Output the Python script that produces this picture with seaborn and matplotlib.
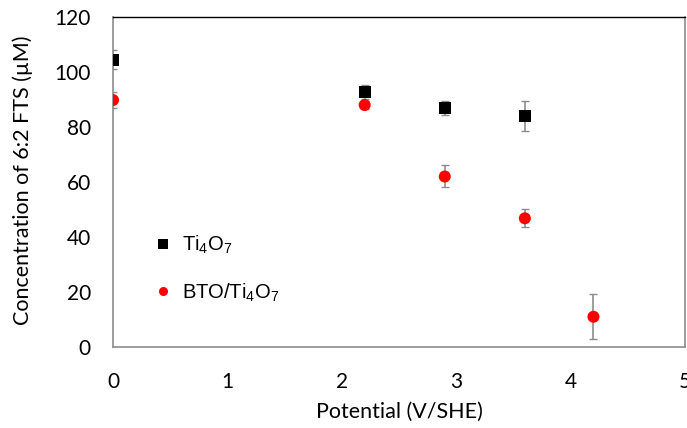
import matplotlib
matplotlib.use("Agg")
import matplotlib.pyplot as plt
import seaborn as sns
import pandas as pd
import numpy as np

# Data
ti_x = [0.0, 2.2, 2.9, 3.6]
ti_y = [104.5, 92.7, 87.0, 84.0]
ti_err = [3.5, 2.6, 2.6, 5.6]

bto_x = [0.0, 2.2, 2.9, 3.6, 4.2]
bto_y = [89.8, 88.0, 62.0, 46.8, 11.0]
bto_err = [2.8, 1.6, 4.0, 3.3, 8.2]

series_labels = [r"Ti$_4$O$_7$", r"BTO/Ti$_4$O$_7$"]
x_ticks = [0, 1, 2, 3, 4, 5]
y_ticks = [0, 20, 40, 60, 80, 100, 120]

df = pd.DataFrame({
    "x": ti_x + bto_x,
    "y": ti_y + bto_y,
    "err": ti_err + bto_err,
    "series": [series_labels[0]] * len(ti_x) + [series_labels[1]] * len(bto_x),
})

sns.set_style("white")
plt.rcParams["font.family"] = ["Lato", "DejaVu Sans"]
plt.rcParams["mathtext.fontset"] = "custom"
plt.rcParams["mathtext.rm"] = "Liberation Sans"
plt.rcParams["mathtext.it"] = "Liberation Sans"
plt.rcParams["text.color"] = "black"
plt.rcParams["axes.labelcolor"] = "black"
plt.rcParams["xtick.color"] = "black"
plt.rcParams["ytick.color"] = "black"

fig = plt.figure(figsize=(6.87, 4.28), dpi=100)
ax = fig.add_axes([113 / 687, 1 - 347 / 428, 572 / 687, 330 / 428])

gray = "#8c8c8c"
for xs, ys, es in [(ti_x, ti_y, ti_err), (bto_x, bto_y, bto_err)]:
    ax.errorbar(xs, ys, yerr=es, fmt="none", ecolor=gray, elinewidth=1.2,
                capsize=3, capthick=1.0, zorder=2)

sns.scatterplot(data=df, x="x", y="y", hue="series", style="series",
                palette={series_labels[0]: "black", series_labels[1]: "#ff0000"},
                markers={series_labels[0]: "s", series_labels[1]: "o"},
                s=75, edgecolor="none", linewidth=0, ax=ax, zorder=3)

ax.set_xlim(0, 5)
ax.set_ylim(0, 120)
ax.set_xticks(x_ticks)
ax.set_yticks(y_ticks)
ax.tick_params(axis="both", length=0, labelsize=15, labelcolor="black")
ax.tick_params(axis="x", pad=18)
ax.tick_params(axis="y", pad=16)

ax.set_xlabel("Potential (V/SHE)", fontsize=15.5, labelpad=7, color="black")
ax.set_ylabel("Concentration of 6:2 FTS (\u00b5M)", fontsize=15.5, color="black")
ax.yaxis.set_label_coords(-0.14, 0.505)

for side in ["left", "bottom", "right"]:
    ax.spines[side].set_color(gray)
    ax.spines[side].set_linewidth(1.2)
ax.spines["top"].set_color("black")
ax.spines["top"].set_linewidth(1.0)

handles, labels = ax.get_legend_handles_labels()
leg = ax.legend(handles, labels, loc="center left",
                bbox_to_anchor=(0.056, 0.237), frameon=False,
                borderpad=0, handlelength=0.8, handletextpad=0.55,
                labelspacing=1.25, markerscale=0.75,
                prop={"family": "Liberation Sans", "size": 14.5})
for t in leg.get_texts():
    t.set_color("black")

fig.savefig("out.png", dpi=100)
